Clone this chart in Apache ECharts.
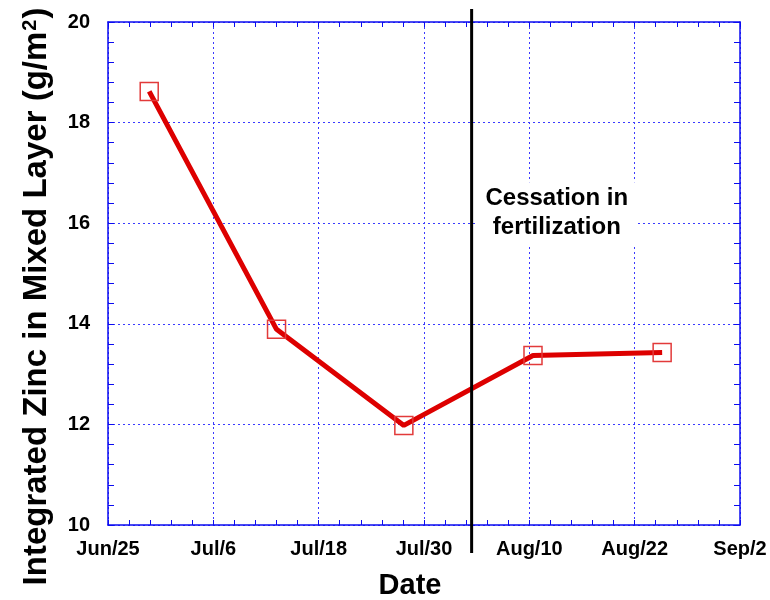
<!DOCTYPE html>
<html>
<head>
<meta charset="utf-8">
<script src="https://cdn.jsdelivr.net/npm/echarts@6/dist/echarts.min.js"></script>
<style>
  html, body { margin: 0; padding: 0; background: #fff; }
  #chart { width: 770px; height: 600px; }
</style>
</head>
<body>
<div id="chart"></div>
<script>
// Days counted from Jun 25; ticks every 11.5 days
const tickLabels = ['Jun/25', 'Jul/6', 'Jul/18', 'Jul/30', 'Aug/10', 'Aug/22', 'Sep/2'];
const tickStep = 11.5;
const sampleDays = [4.5, 18.4, 32.3, 46.4, 60.5];
const zincValues = [18.62, 13.89, 11.98, 13.37, 13.43];
const cessationDay = 39.7;
const noteText = ['Cessation in', 'fertilization'];
const noteAt = [49.0, 16.2];

const FONT = '"Liberation Sans", Arial, sans-serif';
const AXIS_BLUE = '#0c0cf0';
const GRID_BLUE = '#3a3aff';

const points = sampleDays.map((d, i) => [d, zincValues[i]]);

function xAxisBase(pos, labels) {
  return {
    type: 'value', position: pos,
    min: 0, max: tickStep * (tickLabels.length - 1), interval: tickStep,
    axisLine: { show: true, onZero: false, lineStyle: { color: AXIS_BLUE, width: 1.5 } },
    axisTick: { show: true, inside: true, length: 5, lineStyle: { color: AXIS_BLUE } },
    minorTick: { show: true, splitNumber: 5, length: 5, lineStyle: { color: AXIS_BLUE } },
    splitLine: { show: labels, lineStyle: { color: GRID_BLUE, type: [2, 3], width: 1 } },
    axisLabel: labels ? {
      show: true, margin: 14, color: '#000', fontFamily: FONT, fontWeight: 'bold', fontSize: 20,
      showMinLabel: true, showMaxLabel: true,
      formatter: v => tickLabels[Math.round(v / tickStep)] || ''
    } : { show: false }
  };
}
function yAxisBase(pos, labels) {
  return {
    type: 'value', position: pos,
    min: 10, max: 20, interval: 2,
    axisLine: { show: true, onZero: false, lineStyle: { color: AXIS_BLUE, width: 1.5 } },
    axisTick: { show: true, inside: true, length: 6, lineStyle: { color: AXIS_BLUE } },
    minorTick: { show: true, splitNumber: 5, length: 6, lineStyle: { color: AXIS_BLUE } },
    splitLine: { show: labels, lineStyle: { color: GRID_BLUE, type: [2, 3], width: 1 } },
    axisLabel: labels ? {
      show: true, margin: 18, color: '#000', fontFamily: FONT, fontWeight: 'bold', fontSize: 20
    } : { show: false }
  };
}

const chart = echarts.init(document.getElementById('chart'), null, { renderer: 'canvas' });

const xMain = xAxisBase('bottom', true);
xMain.name = 'Date';
xMain.nameLocation = 'middle';
xMain.nameGap = 46;
xMain.nameTextStyle = { color: '#000', fontFamily: FONT, fontWeight: 'bold', fontSize: 29, padding: [0, 28, 0, 0] };

const yMain = yAxisBase('left', true);
yMain.name = 'Integrated Zinc in Mixed Layer (g/m{sup|2})';
yMain.nameLocation = 'middle';
yMain.nameGap = 55;
yMain.nameTextStyle = {
  color: '#000', fontFamily: FONT, fontWeight: 'bold', fontSize: 33, padding: [0, 46, 0, 0],
  rich: {
    sup: { color: '#000', fontFamily: FONT, fontWeight: 'bold', fontSize: 20, verticalAlign: 'top', padding: [0, 1, 12, 1] }
  }
};

chart.setOption({
  animation: false,
  backgroundColor: '#fff',
  grid: { left: 108, right: 30, top: 22, bottom: 75, outerBoundsMode: 'none' },
  xAxis: [xMain, xAxisBase('top', false)],
  yAxis: [yMain, yAxisBase('right', false)],
  series: [{
    type: 'line',
    xAxisIndex: 0, yAxisIndex: 0,
    data: points,
    symbol: 'rect',
    symbolSize: 18,
    lineStyle: { color: '#dd0000', width: 5 },
    itemStyle: { color: 'rgba(0,0,0,0)', borderColor: '#e23a3a', borderWidth: 1.5 },
    z: 3
  }]
});

// Cessation marker line (extends past the plot frame) and annotation
const lineTop = chart.convertToPixel({ gridIndex: 0 }, [cessationDay, 20]);
const lineBot = chart.convertToPixel({ gridIndex: 0 }, [cessationDay, 10]);
const notePx = chart.convertToPixel({ gridIndex: 0 }, noteAt);

chart.setOption({
  graphic: [
    {
      type: 'line', z: 10,
      shape: { x1: lineTop[0], y1: lineTop[1] - 13, x2: lineBot[0], y2: lineBot[1] + 28 },
      style: { stroke: '#000', lineWidth: 3 }
    },
    {
      type: 'text', z: 9,
      x: notePx[0], y: notePx[1],
      style: {
        text: noteText.join('\n'),
        font: 'bold 24px ' + FONT,
        fill: '#000',
        align: 'center', verticalAlign: 'middle',
        lineHeight: 29,
        backgroundColor: '#fff',
        padding: [2, 8, 2, 8]
      }
    }
  ]
});
</script>
</body>
</html>
